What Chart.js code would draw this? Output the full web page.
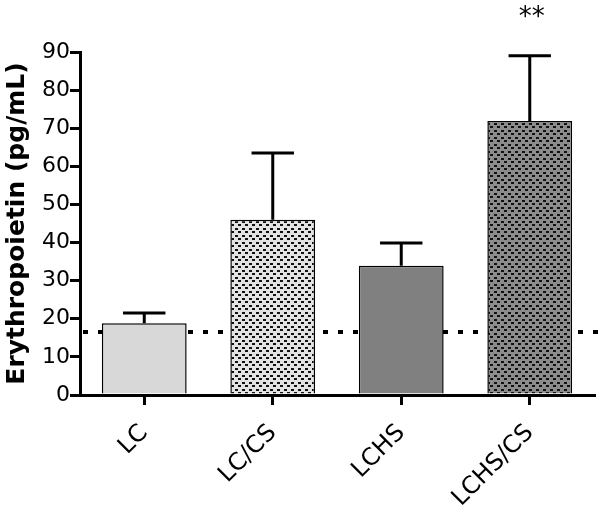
<!DOCTYPE html>
<html><head><meta charset="utf-8">
<script src="https://cdn.jsdelivr.net/npm/chart.js@4/dist/chart.umd.min.js"></script>
<style>html,body{margin:0;padding:0;background:#fff}#wrap{width:600px;height:514px}</style>
</head><body><div id="wrap"><canvas id="c" width="600" height="514"></canvas></div>
<script>
const categories = ['LC', 'LC/CS', 'LCHS', 'LCHS/CS'];
const meanValues = [18.8, 46, 33.9, 71.9];
const errorUpper = [21.5, 63.5, 39.9, 89];
const baselineValue = 16.5;
const significance = ['', '', '', '**'];
const yTicks = [0, 10, 20, 30, 40, 50, 60, 70, 80, 90];

function dotPattern(bg, dot) {
  const t = document.createElement('canvas');
  t.width = 7; t.height = 7;
  const g = t.getContext('2d');
  g.fillStyle = bg; g.fillRect(0, 0, 7, 7);
  g.fillStyle = dot;
  g.fillRect(0, 0, 3, 2);
  g.fillRect(4, 4, 3, 2);
  return document.getElementById('c').getContext('2d').createPattern(t, 'repeat');
}
const fills = ['#d8d8d8', dotPattern('#e2e2e2', '#111'), '#808080', dotPattern('#8c8c8c', '#111')];

const extras = {
  id: 'extras',
  beforeDatasetsDraw(chart) {
    const {ctx, chartArea, scales} = chart;
    const y = scales.y.getPixelForValue(baselineValue);
    ctx.save();
    ctx.strokeStyle = '#000';
    ctx.lineWidth = 4;
    ctx.setLineDash([5, 10]);
    ctx.beginPath();
    ctx.moveTo(chartArea.left + 3, y);
    ctx.lineTo(600, y);
    ctx.stroke();
    ctx.restore();
  },
  afterDatasetsDraw(chart) {
    const {ctx, scales} = chart;
    const meta = chart.getDatasetMeta(0);
    ctx.save();
    ctx.strokeStyle = '#000';
    ctx.lineWidth = 3;
    meta.data.forEach((bar, i) => {
      const x = bar.x;
      const yTop = scales.y.getPixelForValue(meanValues[i]);
      const yErr = scales.y.getPixelForValue(errorUpper[i]);
      const half = bar.width / 4;
      ctx.beginPath();
      ctx.moveTo(x, yTop);
      ctx.lineTo(x, yErr);
      ctx.moveTo(x - half, yErr);
      ctx.lineTo(x + half, yErr);
      ctx.stroke();
      if (significance[i]) {
        ctx.fillStyle = '#000';
        ctx.font = '26px "DejaVu Sans"';
        ctx.textAlign = 'center';
        ctx.textBaseline = 'middle';
        ctx.fillText(significance[i], x + 2, 18);
      }
    });
    ctx.restore();
  }
};

new Chart(document.getElementById('c'), {
  type: 'bar',
  data: {
    labels: categories,
    datasets: [{
      data: meanValues,
      backgroundColor: fills,
      borderColor: '#000',
      borderWidth: 1.5,
      borderSkipped: 'bottom',
      barPercentage: 0.66,
      categoryPercentage: 1
    }]
  },
  options: {
    responsive: false,
    animation: false,
    layout: {padding: {top: 52, right: 6, left: 0, bottom: 0}},
    plugins: {legend: {display: false}, tooltip: {enabled: false}},
    scales: {
      x: {
        afterFit(s) { s.height = 119; },
        border: {color: '#000', width: 3},
        grid: {offset: false, drawOnChartArea: false, color: '#000', lineWidth: 3, tickLength: 10},
        ticks: {color: '#000', font: {family: 'DejaVu Sans', size: 24}, minRotation: 45, maxRotation: 45, padding: 14}
      },
      y: {
        min: 0, max: 90,
        afterFit(s) { s.width = 80; },
        afterBuildTicks(s) { s.ticks = yTicks.map(v => ({value: v})); },
        border: {color: '#000', width: 3},
        grid: {drawOnChartArea: false, color: '#000', lineWidth: 3, tickLength: 10},
        ticks: {color: '#000', font: {family: 'DejaVu Sans', size: 22}, padding: 0},
        title: {display: true, text: 'Erythropoietin (pg/mL)', color: '#000', font: {family: 'DejaVu Sans', size: 25, weight: 'bold'}, padding: {top: 2, bottom: 0}}
      }
    }
  },
  plugins: [extras]
});
</script></body></html>
